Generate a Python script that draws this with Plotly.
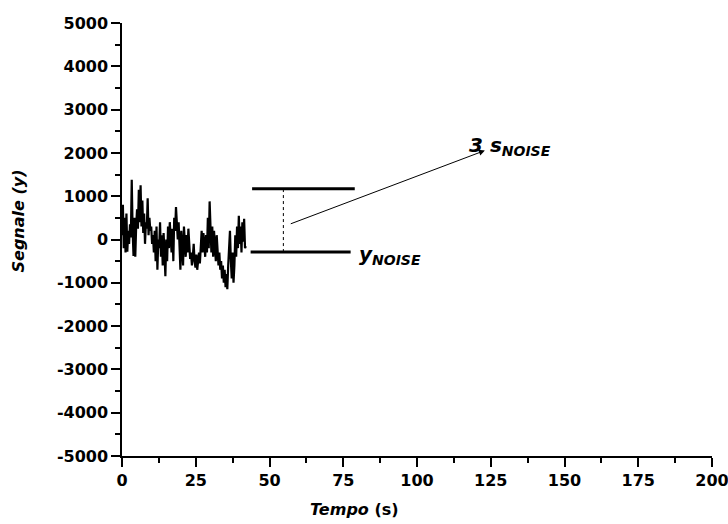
import plotly.graph_objects as go

# ---- data ----
dt = 0.3  # sampling interval (s)
signal = [100, 800, -200, 500, -300, 600, -280, 200,
          -100, 350, 50, 1380, 200, -380, 500, -400, 300,
          700, 250, 1150, 400, 1250, 300, 900, 150, 600,
          -100, 400, 250, 950, 100, 500, 200, 300,
          -100, 100, -300, 200, -500, 300, -700, 0, -200, 400,
          -400, 100, -600, 150, -300, -850, 0, -500, 300, -200,
          400, 100, -300, 250, -500, 500, 200, 750, 300, 0,
          400, -300, -700, 200, -400, -600, 300, -200, -400, 100,
          -300, 250, -100, -450, -300, -600, -400, -100, -500, -650,
          -350, -700, -500, -300, -550, -200, 200, -300, 150, -100,
          -400, 100, -300, 500, -200, 880, 100, -300, 300, -400,
          200, -100, -500, 100, -250, -600, -300, -700, -500, -900,
          -600, -1000, -700, -1100, -800, -1150, -600, -300, 200, -500,
          -900, -300, -1000, -600, 100, -400, 300, -200, 550, -100,
          300, -300, 400, -50, 480, -200, -150]
time = [round(i * dt, 2) for i in range(len(signal))]

upper_x = [44.1, 78.9]
upper_y = [1170, 1170]
lower_x = [43.6, 77.5]
lower_y = [-290, -290]
dotted_x = [54.7, 54.7]
dotted_y = [-290, 1170]
arrow_tail = (56.7, 350)
arrow_head = (123, 2055)

x_ticks = [0, 25, 50, 75, 100, 125, 150, 175, 200]
y_ticks = [5000, 4000, 3000, 2000, 1000, 0, -1000, -2000, -3000, -4000, -5000]

FONT = "DejaVu Sans"

fig = go.Figure()
fig.add_trace(go.Scatter(x=time, y=signal, mode="lines",
                         line=dict(color="black", width=2.2), showlegend=False))
fig.add_trace(go.Scatter(x=upper_x, y=upper_y, mode="lines",
                         line=dict(color="black", width=3), showlegend=False))
fig.add_trace(go.Scatter(x=lower_x, y=lower_y, mode="lines",
                         line=dict(color="black", width=3), showlegend=False))
fig.add_trace(go.Scatter(x=dotted_x, y=dotted_y, mode="lines",
                         line=dict(color="black", width=1, dash="dot"), showlegend=False))

fig.add_annotation(x=arrow_head[0], y=arrow_head[1], ax=arrow_tail[0], ay=arrow_tail[1],
                   xref="x", yref="y", axref="x", ayref="y", text="",
                   showarrow=True, arrowhead=2, arrowsize=1.2, arrowwidth=1, arrowcolor="black")

fig.add_annotation(x=117, y=2170, xref="x", yref="y", xanchor="left", yanchor="middle",
                   text="<b><i>3 s<sub>NOISE</sub></i></b>", showarrow=False,
                   font=dict(family=FONT, size=20, color="black"))
fig.add_annotation(x=79.5, y=-350, xref="x", yref="y", xanchor="left", yanchor="middle",
                   text="<b><i>y<sub>NOISE</sub></i></b>", showarrow=False,
                   font=dict(family=FONT, size=20, color="black"))

# axis titles
fig.add_annotation(x=0.394, y=-0.124, xref="paper", yref="paper", xanchor="center", yanchor="middle",
                   text="<b><i>Tempo</i> (s)</b>", showarrow=False,
                   font=dict(family=FONT, size=16, color="black"))
fig.add_annotation(x=-0.176, y=0.542, xref="paper", yref="paper", xanchor="center", yanchor="middle",
                   text="<b><i>Segnale (y)</i></b>", showarrow=False, textangle=-90,
                   font=dict(family=FONT, size=16, color="black"))

axis_common = dict(showline=True, linecolor="black", linewidth=1.5, showgrid=False, zeroline=False,
                   ticks="outside", ticklen=9, tickwidth=1.5, tickcolor="black",
                   tickfont=dict(family=FONT, size=16, color="black", weight="bold"),
                   mirror=False, automargin=False, ticklabeloverflow="allow")

fig.update_xaxes(range=[0, 200], tickvals=x_ticks, ticktext=[str(v) for v in x_ticks],
                 minor=dict(ticks="outside", ticklen=5, tickwidth=1.5, tickcolor="black", dtick=12.5, tick0=0),
                 **axis_common)
fig.update_yaxes(range=[-5000, 5000], tickvals=y_ticks, ticktext=[str(v) for v in y_ticks],
                 minor=dict(ticks="outside", ticklen=5, tickwidth=1.5, tickcolor="black", dtick=500, tick0=0),
                 **axis_common)

fig.update_layout(width=728, height=524, margin=dict(l=122, r=16, t=23, b=68),
                  plot_bgcolor="white", paper_bgcolor="white", showlegend=False)

fig.write_html("out.html")
